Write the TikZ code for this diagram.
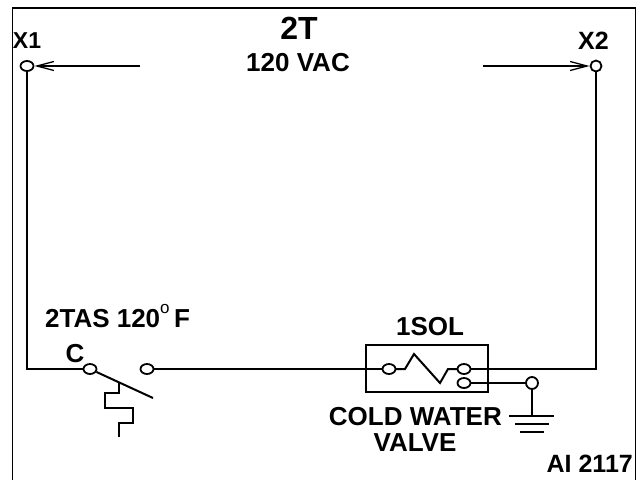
\documentclass[tikz,border=0pt]{standalone}
\usepackage{fontspec}
\setmainfont{Liberation Sans}
\usetikzlibrary{arrows.meta,positioning,shapes.geometric}

\begin{document}
\begin{tikzpicture}[x=1pt,y=-1pt,font=\bfseries,
  wire/.style={line width=2pt},
  thin wire/.style={line width=1.3pt},
  terminal/.style={draw,ellipse,fill=white,line width=1.8pt,inner sep=0pt,minimum width=13pt,minimum height=10pt},
  label/.style={inner sep=0pt,anchor=base,text=black,font=\bfseries\fontsize{#1}{#1}\selectfont},
  label/.default=20
]
\useasboundingbox (0,0) rectangle (637,480);

% frame
\draw[line width=1.3pt] (12.5,480) -- (12.5,8) -- (635.5,8) -- (635.5,480);

% solenoid box
\node[draw,line width=1.6pt,minimum width=122pt,minimum height=47pt,inner sep=0pt] (sol) at (427,368.5) {};
\coordinate (coila) at (396,369);
\coordinate (coilb) at (457,369);

% terminals
\node[terminal] (x1) at (27,66) {};
\node[terminal,minimum width=11pt,minimum height=11pt] (x2) at (596,66) {};
\node[terminal] (c) at (90,369) {};
\node[terminal] (open) at (147,369) {};
\node[terminal] (solin) at (389,369) {};
\node[terminal] (solout) at (464,369) {};
\node[terminal] (solgnd) at (464,383) {};
\node[terminal,minimum width=12pt,minimum height=12pt] (gnd) at (532,383) {};

% wires
\draw[wire] (x1) |- (c);
\draw[wire] (x2) |- (solout);
\draw[wire] (open) -- (solin);
\draw[wire] (solin) -- (coila) -- (405,369) -- (414,354) -- (440,383) -- (448,369) -- (coilb) -- (solout);
\draw[wire] (solgnd) -- (gnd);

% switch blade and bulb
\coordinate (bladeend) at (153,398);
\draw[wire] (c) -- (bladeend);
\draw[wire] (119,383) -- (119,392.5) -- (105,392.5) -- (105,407.5) -- (133,407.5) -- (133,422.5) -- (119,422.5) -- (119,437);

% ground
\coordinate (gndlug) at (532,416);
\draw[wire] (gnd) -- (gndlug);
\draw[wire] (509,416) -- (554,416);
\draw[wire] (515,423.5) -- (549,423.5);
\draw[wire] (520,432) -- (544,432);

% arrows for the supply
\coordinate (arrowl) at (140,66);
\coordinate (arrowr) at (483,66);
\draw[thin wire,-{Straight Barb[length=17pt,width=9pt]}] (arrowl) -- (x1);
\draw[thin wire,-{Straight Barb[length=17pt,width=9pt]}] (arrowr) -- (x2);

% labels
\node[label=32] (title) at (299,39) {2T};
\node[label=26] (volts) at (298,71) {120 VAC};
\node[label=23] (x1lab) at (27,48) {X1};
\node[label=25] (x2lab) at (593.5,49) {X2};
\node[label=26] (tas) at (117.5,327) {2TAS 120\raisebox{.52em}{\fontsize{17}{17}\selectfont\mdseries o}\,F};
\node[label=26] (clab) at (75,362) {C};
\node[label=26] (sollab) at (430,335) {1SOL};
\node[label=26,anchor=base east] (cold) at (502,425.5) {COLD WATER};
\node[label=26] (valve) at (415,451.5) {VALVE};
\node[label=25,anchor=base east] (ai) at (633,472) {AI 2117};
\end{tikzpicture}
\end{document}
